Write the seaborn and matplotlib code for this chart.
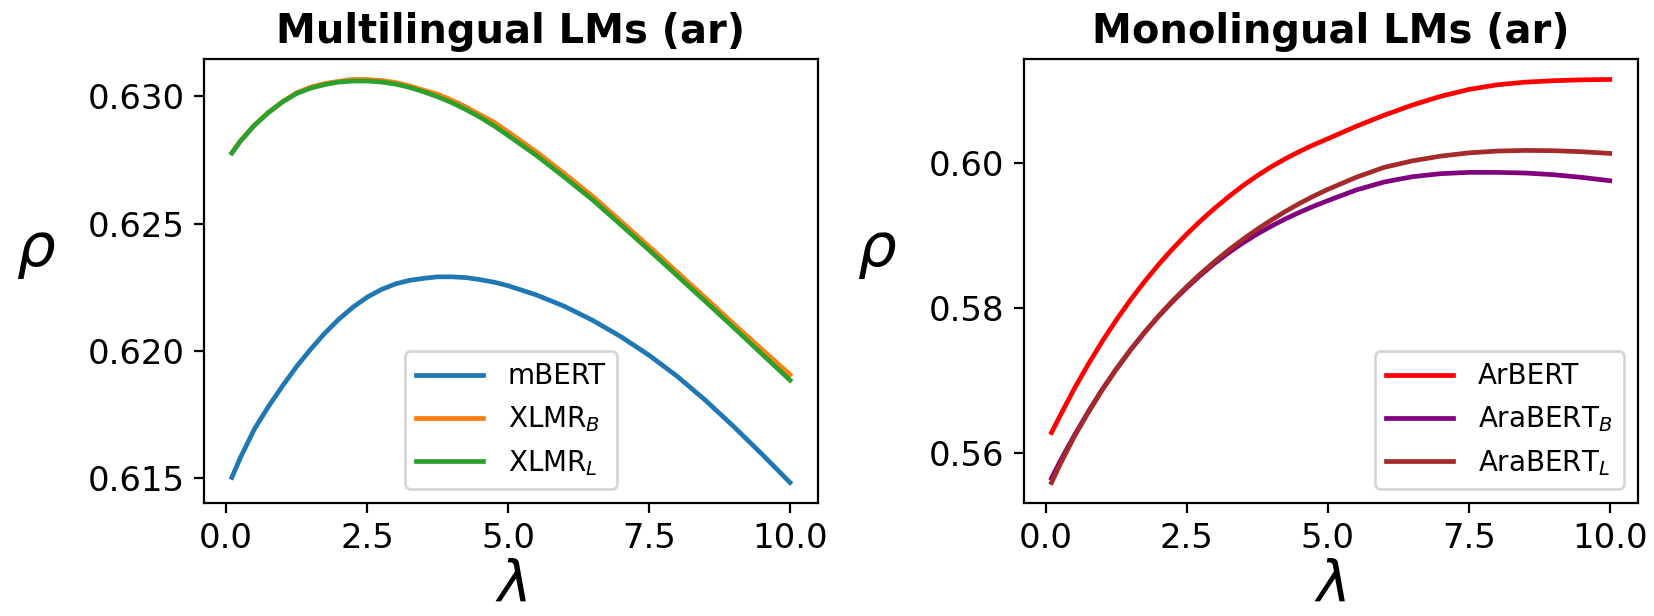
import numpy as np
import pandas as pd
import matplotlib
matplotlib.use("Agg")
import matplotlib.pyplot as plt
import seaborn as sns

# ---------------- data ----------------
lam = [0.1, 0.25, 0.5, 0.75, 1.0, 1.25, 1.5, 1.75, 2.0, 2.25, 2.5, 2.75,
       3.0, 3.25, 3.5, 3.75, 4.0, 4.25, 4.5, 4.75, 5.0,
       5.5, 6.0, 6.5, 7.0, 7.5, 8.0, 8.5, 9.0, 9.5, 10.0]

multi_names = ["mBERT", "XLMR$_B$", "XLMR$_L$"]
multi_colors = ["tab:blue", "tab:orange", "tab:green"]
mbert = [0.61503, 0.61580, 0.61693, 0.61782, 0.61863, 0.61939, 0.62007,
         0.62070, 0.62125, 0.62172, 0.62211, 0.62241, 0.62263, 0.62277,
         0.62285, 0.62291, 0.62291, 0.62288, 0.62280, 0.62270, 0.62256,
         0.62220, 0.62175, 0.62120, 0.62056, 0.61983, 0.61900, 0.61806,
         0.61703, 0.61595, 0.61483]
xlmr_b = [0.62778, 0.62824, 0.62887, 0.62937, 0.62979, 0.63014, 0.63036,
          0.63050, 0.63059, 0.63066, 0.63066, 0.63062, 0.63054, 0.63041,
          0.63024, 0.63008, 0.62985, 0.62958, 0.62928, 0.62898, 0.62860,
          0.62782, 0.62696, 0.62607, 0.62509, 0.62410, 0.62309, 0.62208,
          0.62106, 0.62006, 0.61907]
xlmr_l = [0.62777, 0.62823, 0.62886, 0.62936, 0.62978, 0.63011, 0.63032,
          0.63046, 0.63056, 0.63060, 0.63060, 0.63056, 0.63048, 0.63035,
          0.63018, 0.62998, 0.62975, 0.62948, 0.62918, 0.62884, 0.62846,
          0.62768, 0.62682, 0.62593, 0.62495, 0.62396, 0.62295, 0.62194,
          0.62092, 0.61988, 0.61885]

mono_names = ["ArBERT", "AraBERT$_B$", "AraBERT$_L$"]
mono_colors = ["red", "purple", "brown"]
arbert = [0.56285, 0.56515, 0.56885, 0.57226, 0.57545, 0.57840, 0.58115,
          0.58369, 0.58605, 0.58823, 0.59025, 0.59212, 0.59385, 0.59546,
          0.59695, 0.59831, 0.59955, 0.60065, 0.60165, 0.60257, 0.60340,
          0.60510, 0.60665, 0.60805, 0.60925, 0.61020, 0.61084, 0.61121,
          0.61141, 0.61153, 0.61158]
arabert_b = [0.55655, 0.55885, 0.56240, 0.56570, 0.56880, 0.57163, 0.57425,
             0.57667, 0.57890, 0.58096, 0.58285, 0.58462, 0.58625, 0.58772,
             0.58905, 0.59026, 0.59135, 0.59235, 0.59325, 0.59409, 0.59485,
             0.59632, 0.59743, 0.59816, 0.59858, 0.59876, 0.59876, 0.59867,
             0.59844, 0.59807, 0.59761]
arabert_l = [0.55595, 0.55843, 0.56225, 0.56560, 0.56875, 0.57160, 0.57425,
             0.57669, 0.57895, 0.58106, 0.58300, 0.58482, 0.58650, 0.58809,
             0.58955, 0.59092, 0.59218, 0.59338, 0.59448, 0.59549, 0.59641,
             0.59807, 0.59945, 0.60035, 0.60100, 0.60145, 0.60170, 0.60179,
             0.60175, 0.60161, 0.60138]

multi_ticks = [0.615, 0.620, 0.625, 0.630]
mono_ticks = [0.56, 0.58, 0.60]
x_ticks = [0.0, 2.5, 5.0, 7.5, 10.0]

# ---------------- plot ----------------
fig, axes = plt.subplots(1, 2, figsize=(8.27, 3.08), dpi=200)
fig.subplots_adjust(left=0.1233, right=0.9901, bottom=0.1839, top=0.9037, wspace=0.335)

panels = [
    (axes[0], "Multilingual LMs (ar)", multi_names, [mbert, xlmr_b, xlmr_l],
     multi_colors, multi_ticks, "lower center", -0.2735),
    (axes[1], "Monolingual LMs (ar)", mono_names, [arbert, arabert_b, arabert_l],
     mono_colors, mono_ticks, "lower right", -0.238),
]

for ax, title, names, series, colors, yt, loc, labx in panels:
    for name, vals, col in zip(names, series, colors):
        df = pd.DataFrame({"lam": lam, "rho": vals})
        sns.lineplot(data=df, x="lam", y="rho", ax=ax, color=col,
                     linewidth=1.7, label=name)
    ax.set_title(title, fontsize=14.4, fontweight="bold")
    ax.set_xticks(x_ticks)
    ax.set_yticks(yt)
    ax.tick_params(labelsize=12.2)
    ax.set_xlabel(r"$\lambda$", fontsize=20.5, labelpad=1)
    ax.set_ylabel(r"$\rho$", fontsize=22, rotation=0)
    ax.yaxis.set_label_coords(labx, 0.5)
    ax.legend(loc=loc, fontsize=10, handlelength=2.4, handletextpad=0.9)

fig.savefig("out.png", dpi=200)
